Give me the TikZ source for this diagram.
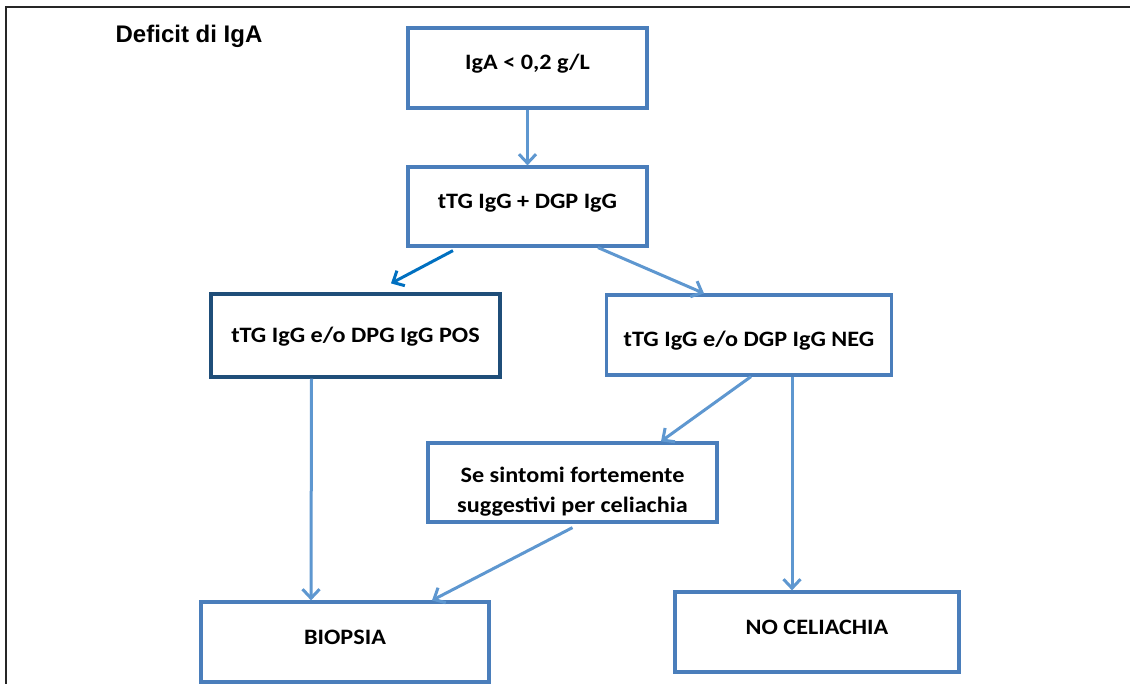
\documentclass[tikz,border=0pt]{standalone}
\usepackage{xcolor}
\usepackage{fontspec}
\usepackage{tikz}
\usetikzlibrary{arrows.meta}
\newfontfamily\boxfont{Carlito}[FakeStretch=1.1]
\newfontfamily\titlefont{Liberation Sans}
\definecolor{boxblue}{HTML}{4A7EBB}
\definecolor{navyblue}{HTML}{1F4E79}
\definecolor{arrowblue}{HTML}{5E97D0}
\definecolor{brightblue}{HTML}{0070C0}

\begin{document}
\begin{tikzpicture}[x=1pt,y=-1pt,
    every node/.style={shape=rectangle,align=center,font=\boxfont\bfseries\fontsize{22}{30}\selectfont},
    box/.style={draw=boxblue,line width=3.2pt,minimum width=#1,minimum height=80pt,inner sep=0pt},
    up/.style={text height=14pt,text depth=10pt},
    down/.style={text height=24pt,text depth=0pt},
    mid/.style={text height=14pt,text depth=0pt},
    arr/.style={draw=arrowblue,line width=3pt,-{Straight Barb[length=9pt,width=17pt]}}]
    \useasboundingbox (0,0) rectangle (1130,684);
    \clip (0,0) rectangle (1130,684);
    \draw[line width=2.5pt,black!85] (6,7) rectangle (1200,760);
    \node[font=\titlefont\bfseries\fontsize{24}{28}\selectfont] (title) at (189,36) {Deficit di IgA};
    \node[box=239pt,up] (iga) at (527.5,68) {IgA < 0,2 g/L};
    \node[box=239pt,up,minimum height=79pt] (ttg) at (527.5,206.5) {tTG IgG + DGP IgG};
    \node[box=289pt,mid,draw=navyblue,minimum height=83pt] (pos) at (355.5,335.5) {tTG IgG e/o DPG IgG POS};
    \node[box=285pt,down] (neg) at (749,335) {tTG IgG e/o DGP IgG NEG};
    \node[box=289pt,minimum height=79pt] (sint) at (572.5,482.5) {\rule{0pt}{33pt}Se sintomi fortemente\\suggestivi per celiachia};
    \node[box=288pt,up] (biop) at (345,642) {BIOPSIA};
    \node[box=284pt,up] (noc) at (817,632) {NO CELIACHIA};
    \draw[arr] (iga.south) -- (ttg.north);
    \draw[arr,draw=brightblue] ([xshift=-74.5pt,yshift=-3pt]ttg.south) -- ([xshift=35.5pt,yshift=9pt]pos.north);
    \draw[arr] ([xshift=70.5pt]ttg.south) -- ([xshift=-45pt]neg.north);
    \draw[arr] ([xshift=-44pt]pos.south) -- ([xshift=-34pt]biop.north);
    \draw[arr] ([xshift=2pt]neg.south) -- ([xshift=88.5pt]sint.north);
    \draw[arr] ([xshift=43pt]neg.south) -- ([xshift=-25pt]noc.north);
    \draw[arr] ([yshift=-4pt]sint.south) -- ([xshift=87pt]biop.north);
\end{tikzpicture}
\end{document}
